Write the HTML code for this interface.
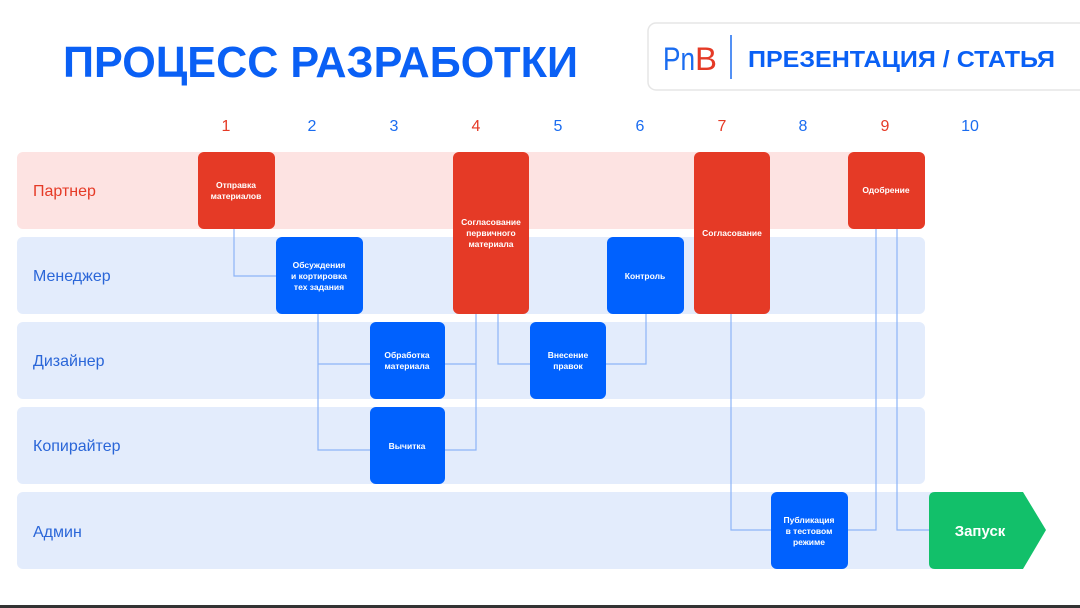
<!DOCTYPE html>
<html><head><meta charset="utf-8"><style>
html,body{margin:0;padding:0;background:#fff;}
svg{display:block;}
text{font-family:"Liberation Sans",sans-serif;}
</style></head><body>
<svg width="1080" height="608" viewBox="0 0 1080 608" xmlns="http://www.w3.org/2000/svg">
<rect width="1080" height="608" fill="#fff"/>
<text x="63" y="77" font-size="44" font-weight="bold" fill="#0a60f5" textLength="515" lengthAdjust="spacingAndGlyphs">ПРОЦЕСС РАЗРАБОТКИ</text>
<rect x="648" y="23" width="445" height="67" rx="8" fill="#fff" stroke="#e6e6e6" stroke-width="1.5"/>
<text x="663" y="70" font-size="32" fill="#1a6cf0" textLength="32" lengthAdjust="spacingAndGlyphs">Pn</text>
<text x="695" y="70" font-size="32" fill="#e53a26" textLength="22" lengthAdjust="spacingAndGlyphs">B</text>
<line x1="731" y1="35" x2="731" y2="79" stroke="#1a6cf0" stroke-width="1.5"/>
<text x="748" y="67" font-size="23" font-weight="bold" fill="#0a60f5" textLength="307" lengthAdjust="spacingAndGlyphs">ПРЕЗЕНТАЦИЯ / СТАТЬЯ</text>
<g font-size="16" text-anchor="middle">
<text x="226" y="131" fill="#e53a26">1</text><text x="312" y="131" fill="#1a6cf0">2</text>
<text x="394" y="131" fill="#1a6cf0">3</text><text x="476" y="131" fill="#e53a26">4</text>
<text x="558" y="131" fill="#1a6cf0">5</text><text x="640" y="131" fill="#1a6cf0">6</text>
<text x="722" y="131" fill="#e53a26">7</text><text x="803" y="131" fill="#1a6cf0">8</text>
<text x="885" y="131" fill="#e53a26">9</text><text x="970" y="131" fill="#1a6cf0">10</text>
</g>
<rect x="17" y="152" width="908" height="77" rx="6" fill="#fde3e2"/>
<rect x="17" y="237" width="908" height="77" rx="6" fill="#e3ecfc"/>
<rect x="17" y="322" width="908" height="77" rx="6" fill="#e3ecfc"/>
<rect x="17" y="407" width="908" height="77" rx="6" fill="#e3ecfc"/>
<rect x="17" y="492" width="930" height="77" rx="6" fill="#e3ecfc"/>
<g font-size="16">
<text x="33" y="196" fill="#e53a26">Партнер</text>
<text x="33" y="281" fill="#2a66d8">Менеджер</text>
<text x="33" y="366" fill="#2a66d8">Дизайнер</text>
<text x="33" y="451" fill="#2a66d8">Копирайтер</text>
<text x="33" y="537" fill="#2a66d8">Админ</text>
</g>
<g fill="none" stroke="#8db4f7" stroke-width="1.2">
<path d="M234 229 V276 H276"/>
<path d="M318 314 V364 H370 M318 364 V450 H370"/>
<path d="M445 364 H476 V314 M445 450 H476 V364"/>
<path d="M498 314 V364 H530"/>
<path d="M606 364 H646 V314"/>
<path d="M731 314 V530 H771"/>
<path d="M848 530 H876 V229"/>
<path d="M897 229 V530 H929"/>
</g>
<g fill="#e53a26">
<rect x="198" y="152" width="77" height="77" rx="6"/>
<rect x="453" y="152" width="76" height="162" rx="6"/>
<rect x="694" y="152" width="76" height="162" rx="6"/>
<rect x="848" y="152" width="77" height="77" rx="6"/>
</g>
<g fill="#0061fe">
<rect x="276" y="237" width="87" height="77" rx="6"/>
<rect x="607" y="237" width="77" height="77" rx="6"/>
<rect x="370" y="322" width="75" height="77" rx="6"/>
<rect x="530" y="322" width="76" height="77" rx="6"/>
<rect x="370" y="407" width="75" height="77" rx="6"/>
<rect x="771" y="492" width="77" height="77" rx="6"/>
</g>
<path d="M935 492 H1023 L1046 530 L1023 569 H935 Q929 569 929 563 V498 Q929 492 935 492 Z" fill="#12c06a"/>
<g font-size="8.5" font-weight="bold" fill="#fff" text-anchor="middle">
<text x="236" y="188">Отправка</text><text x="236" y="199">материалов</text>
<text x="491" y="225">Согласование</text><text x="491" y="236">первичного</text><text x="491" y="247">материала</text>
<text x="732" y="236">Согласование</text>
<text x="886" y="193">Одобрение</text>
<text x="319" y="268">Обсуждения</text><text x="319" y="279">и кортировка</text><text x="319" y="290">тех задания</text>
<text x="645" y="279">Контроль</text>
<text x="407" y="358">Обработка</text><text x="407" y="369">материала</text>
<text x="568" y="358">Внесение</text><text x="568" y="369">правок</text>
<text x="407" y="449">Вычитка</text>
<text x="809" y="523">Публикация</text><text x="809" y="534">в тестовом</text><text x="809" y="545">режиме</text>
</g>
<text x="980" y="536" font-size="15" font-weight="bold" fill="#fff" text-anchor="middle">Запуск</text>
<rect x="0" y="605" width="1080" height="3" fill="#333"/>
</svg>
</body></html>
